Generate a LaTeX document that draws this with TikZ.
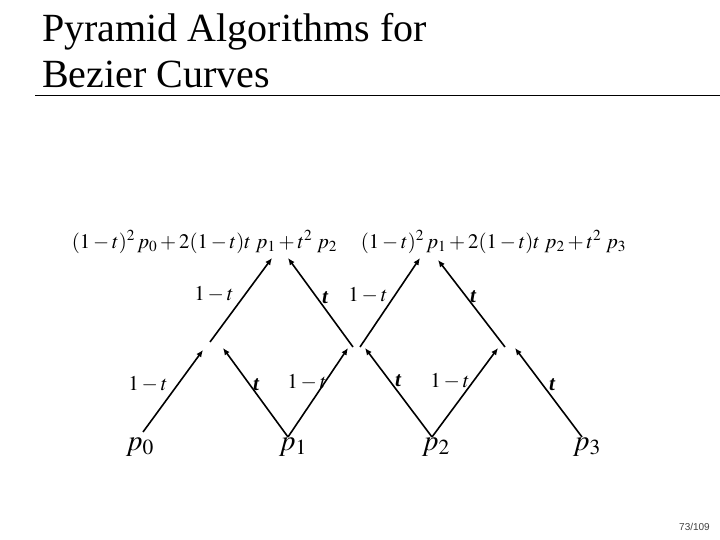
\documentclass[tikz,border=0pt]{standalone}
\usepackage{mathptmx}
\usepackage[no-math]{fontspec}
\setmainfont{Liberation Serif}
\newfontfamily\pagenumfont{Liberation Sans}
\usetikzlibrary{arrows.meta}
\tikzset{
  edge/.style={line width=1.6pt, -{Latex[length=7pt,width=6pt]}},
  wlab/.style={font=\fontsize{21}{21}\selectfont, inner sep=0pt},
  tlab/.style={font=\fontsize{21}{21}\selectfont\bfseries\itshape, inner sep=0pt},
  plab/.style={font=\fontsize{29}{29}\selectfont, inner sep=0pt},
  formula/.style={font=\fontsize{20.7}{20.7}\selectfont, inner sep=0pt, anchor=base},
  titletext/.style={font=\fontsize{40}{40}\selectfont, inner sep=0pt, anchor=base west}
}
\begin{document}
\begin{tikzpicture}[x=1pt,y=-1pt]
\useasboundingbox (0,0) rectangle (720,540);
% title
\node[titletext] (t1) at (42,42) {Pyramid Algorithms for};
\node[titletext] (t2) at (42,88) {Bezier Curves};
\draw[line width=1pt] (35,96) -- (720,96);
% formulas
\node[formula] (f1) at (204.5,248) {$(1-t)^2\,p_0+2(1-t)t\;p_1+t^2\;p_2$};
\node[formula] (f2) at (493.5,248) {$(1-t)^2\,p_1+2(1-t)t\;p_2+t^2\;p_3$};
% level-0 labels
\node[plab] (p0) at (140,447) {$p_0$};
\node[plab] (p1) at (293,447) {$p_1$};
\node[plab] (p2) at (436,447) {$p_2$};
\node[plab] (p3) at (587,447) {$p_3$};
% coordinates
\coordinate (a0) at (143,432);
\coordinate (a1) at (288,437);
\coordinate (a2) at (432,437);
\coordinate (a3) at (582,437);
\coordinate (b0l) at (203,350);
\coordinate (b0r) at (223,348);
\coordinate (b1l) at (348,348);
\coordinate (b1r) at (365,348);
\coordinate (b2l) at (498,348);
\coordinate (b2r) at (515,348);
\coordinate (s0) at (210,342);
\coordinate (s1) at (353,347);
\coordinate (s2) at (360,347);
\coordinate (s3) at (505,347);
\coordinate (c0l) at (272,258);
\coordinate (c0r) at (288,258);
\coordinate (c1l) at (420,258);
\coordinate (c1r) at (438,260);
% bottom row
\draw[edge] (a0) -- (b0l);
\draw[edge] (a1) -- (b0r);
\draw[edge] (a1) -- (b1l);
\draw[edge] (a2) -- (b1r);
\draw[edge] (a2) -- (b2l);
\draw[edge] (a3) -- (b2r);
% upper row
\draw[edge] (s0) -- (c0l);
\draw[edge] (s1) -- (c0r);
\draw[edge] (s2) -- (c1l);
\draw[edge] (s3) -- (c1r);
% weights
\node[wlab] (w1) at (148,384) {$1-t$};
\node[tlab] (w2) at (256,385) {t};
\node[wlab] (w3) at (307,382) {$1-t$};
\node[tlab] (w4) at (398,381) {t};
\node[wlab] (w5) at (450,381) {$1-t$};
\node[tlab] (w6) at (552,385) {t};
\node[wlab] (w7) at (214,294) {$1-t$};
\node[tlab] (w8) at (325,298) {t};
\node[wlab] (w9) at (368,295) {$1-t$};
\node[tlab] (w10) at (473,297) {t};
% page number
\node[font=\pagenumfont\fontsize{10}{10}\selectfont, text=black!75, inner sep=0pt, anchor=base east] (pg) at (710,530) {73/109};
\end{tikzpicture}
\end{document}
